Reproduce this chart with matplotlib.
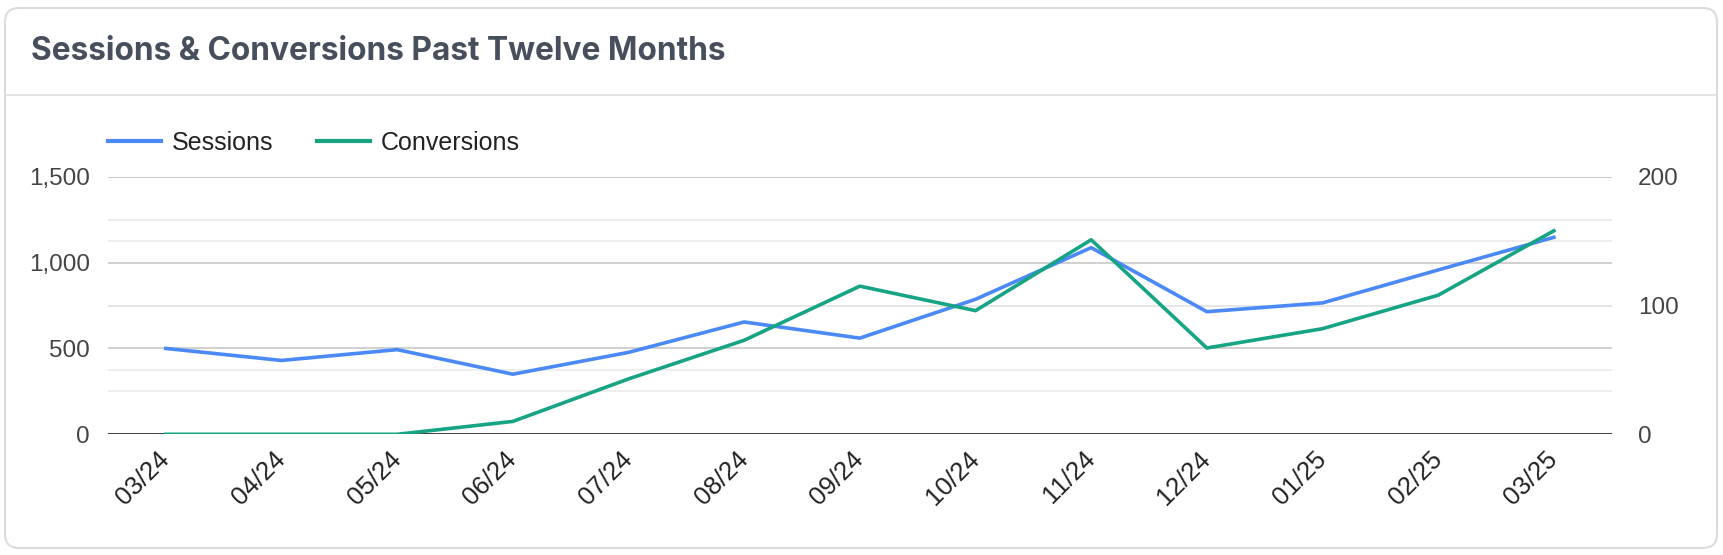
import matplotlib
matplotlib.use("Agg")
import matplotlib.pyplot as plt
from matplotlib.patches import FancyBboxPatch
from matplotlib.lines import Line2D
from matplotlib.transforms import IdentityTransform
from matplotlib.ticker import FuncFormatter

# data
months = ["03/24", "04/24", "05/24", "06/24", "07/24", "08/24", "09/24",
          "10/24", "11/24", "12/24", "01/25", "02/25", "03/25"]
sessions = [500, 430, 493, 350, 477, 654, 560, 786, 1087, 714, 765, 957, 1147]
conversions = [0, 0, 0, 10, 43, 73, 115, 96, 151, 67, 82, 108, 158]

left_major = [0, 500, 1000, 1500]
left_minor = [250, 750, 1250]
right_major = [0, 100, 200]
right_minor = [50, 150]

title = "Sessions & Conversions Past Twelve Months"
blue = "#4a89f6"
green = "#17a484"

W, H, DPI = 1724, 555, 100
plt.rcParams["font.family"] = ["Liberation Sans", "DejaVu Sans"]

fig = plt.figure(figsize=(W / DPI, H / DPI), dpi=DPI)
fig.patch.set_facecolor("white")

# card outline + header separator (pixel coords), kept behind the axes
card = FancyBboxPatch((5, 7), 1712, 540, boxstyle="round,pad=0,rounding_size=14",
                      transform=IdentityTransform(), facecolor="white",
                      edgecolor="#dcdcdc", linewidth=1.5, zorder=-10)
fig.patches.append(card)
fig.lines.append(Line2D([5, 1717], [460, 460], transform=IdentityTransform(),
                        color="#e0e0e0", linewidth=1.2, zorder=-9))
fig.text(31 / W, 503 / H, title, fontsize=22.8, fontweight="bold",
         family=["Inter", "DejaVu Sans"], color="#474e5c", va="center", ha="left")

ax1 = fig.add_axes([108 / W, (H - 434.3) / H, 1503.7 / W, 257.6 / H])
ax2 = ax1.twinx()
ax1.patch.set_visible(False)

x = list(range(len(months)))
ax1.set_xlim(-0.5, len(months) - 0.5)
ax1.set_ylim(0, 1500)
ax2.set_ylim(0, 200)

ax1.set_yticks(left_major)
ax1.set_yticks(left_minor, minor=True)
ax2.set_yticks(right_major)
ax1.grid(True, which="major", axis="y", color="#c8c8c8", linewidth=1.2)
ax1.grid(True, which="minor", axis="y", color="#ebebeb", linewidth=1.2)
ax1.tick_params(axis="y", which="minor", length=0)

# right-scale gridlines drawn inside ax1 so they stay under both series
for v in right_major[1:]:
    ax1.add_line(Line2D([0, 1], [v, v], transform=ax2.get_yaxis_transform(),
                        color="#c8c8c8", linewidth=1.2, zorder=0.5))
for v in right_minor:
    ax1.add_line(Line2D([0, 1], [v, v], transform=ax2.get_yaxis_transform(),
                        color="#ebebeb", linewidth=1.2, zorder=0.5))
ax1.set_axisbelow(True)
ax1.axhline(0, color="#333333", linewidth=2, zorder=3)

l1, = ax1.plot(x, sessions, color=blue, linewidth=2.6, label="Sessions", zorder=4)
l2, = ax2.plot(x, conversions, color=green, linewidth=2.6, label="Conversions", zorder=4)

for ax in (ax1, ax2):
    for s in ax.spines.values():
        s.set_visible(False)

ax1.yaxis.set_major_formatter(FuncFormatter(lambda v, p: f"{int(v):,}"))
ax1.tick_params(axis="y", length=0, pad=13, labelsize=17.5, labelcolor="#444444")
ax2.tick_params(axis="y", length=0, pad=19, labelsize=17.5, labelcolor="#444444")

ax1.set_xticks(x)
ax1.set_xticklabels(months, rotation=45, ha="right", va="center",
                    rotation_mode="anchor", fontsize=18.5, color="#222222")
ax1.tick_params(axis="x", length=0, pad=15)

fig.legend(handles=[l1, l2], loc="center left", bbox_to_anchor=(108 / W, 412.3 / H),
           bbox_transform=fig.transFigure, ncol=2, frameon=False, fontsize=18,
           handlelength=2.1, handletextpad=0.45, columnspacing=1.75,
           borderpad=0, borderaxespad=0)
for t in fig.legends[0].get_texts():
    t.set_color("#222222")
for h in fig.legends[0].legend_handles:
    h.set_linewidth(3)

fig.savefig("out.png", dpi=DPI, facecolor="white")
